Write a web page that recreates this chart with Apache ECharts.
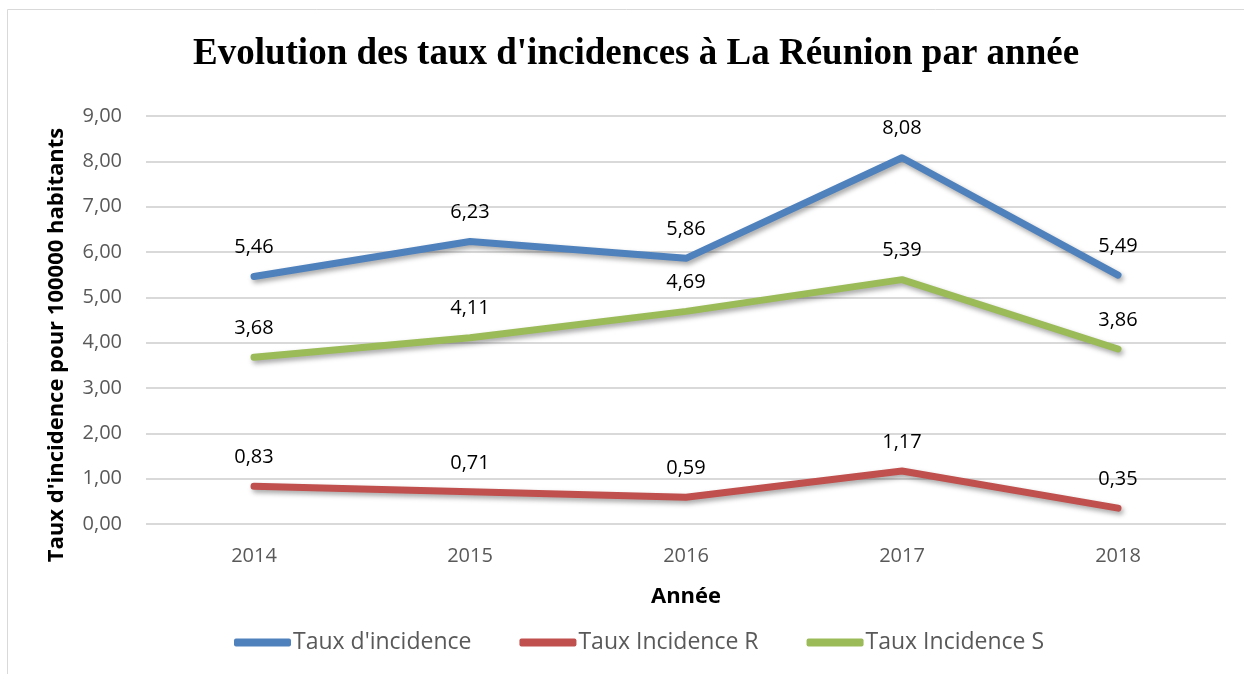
<!DOCTYPE html>
<html><head><meta charset="utf-8">
<script src="https://cdn.jsdelivr.net/npm/echarts@6/dist/echarts.min.js"></script>
<style>html,body{margin:0;padding:0;background:#fff}#c{width:1244px;height:674px}</style>
</head><body><div id="c"></div>
<script>
const years = ['2014','2015','2016','2017','2018'];
const tauxIncidence = [5.46, 6.23, 5.86, 8.08, 5.49];
const tauxR = [0.83, 0.71, 0.59, 1.17, 0.35];
const tauxS = [3.68, 4.11, 4.69, 5.39, 3.86];
const seriesNames = ["Taux d'incidence", 'Taux Incidence R', 'Taux Incidence S'];
const colors = ['#4F81BD', '#C0504D', '#9BBB59'];
const titleText = "Evolution des taux d'incidences à La Réunion par année";
const yName = "Taux d'incidence pour 100000 habitants";
const xName = 'Année';

const fmt = v => v.toFixed(2).replace('.', ',');
const chart = echarts.init(document.getElementById('c'));
function mk(name, data, color) {
  return {
    name, type: 'line', data, color,
    symbol: 'circle', symbolSize: 0, showSymbol: true,
    itemStyle: { color },
    lineStyle: { width: 7, color, cap: 'round', join: 'round',
      shadowColor: 'rgba(0,0,0,0.35)', shadowBlur: 5, shadowOffsetX: 2, shadowOffsetY: 3 },
    label: { show: true, position: 'top', distance: 19, color: '#000',
      fontFamily: 'Open Sans', fontSize: 20, formatter: p => fmt(p.value) },
    emphasis: { disabled: true },
    labelLayout: { hideOverlap: false }
  };
}
chart.setOption({
  animation: false,
  graphic: [
    { type: 'rect', shape: { x: 7.5, y: 9.5, width: 1260, height: 700 },
      style: { fill: 'none', stroke: '#d9d9d9', lineWidth: 1 }, silent: true },
    { type: 'text', x: 57, y: 345, rotation: Math.PI / 2, silent: true,
      style: { text: yName, textAlign: 'center', textVerticalAlign: 'middle',
        fontFamily: 'Open Sans', fontWeight: 'bold', fontSize: 22, fill: '#000' } }
  ],
  title: { text: titleText, left: 188, top: 31,
    textStyle: { fontFamily: 'Liberation Serif', fontWeight: 'bold', fontSize: 37, color: '#000' } },
  grid: { left: 146, right: 18, top: 116, bottom: 150 },
  legend: { bottom: 15, left: 229, itemWidth: 57, itemHeight: 8, itemGap: 48,
    icon: 'roundRect',
    textStyle: { fontFamily: 'Open Sans', fontSize: 23, color: '#595959', padding: [0,0,0,-3] },
    data: seriesNames },
  xAxis: { type: 'category', data: years, boundaryGap: true,
    name: xName, nameLocation: 'middle', nameGap: 62,
    nameTextStyle: { fontFamily: 'Open Sans', fontWeight: 'bold', fontSize: 22, color: '#000' },
    axisLine: { show: false }, axisTick: { show: false },
    axisLabel: { fontFamily: 'Open Sans', fontSize: 20, color: '#595959', margin: 22 } },
  yAxis: { type: 'value', min: 0, max: 9, interval: 1,
    axisLabel: { fontFamily: 'Open Sans', fontSize: 20, color: '#595959', margin: 24, formatter: fmt },
    splitLine: { lineStyle: { color: '#d9d9d9', width: 2 } } },
  series: [mk(seriesNames[0], tauxIncidence, colors[0]), mk(seriesNames[1], tauxR, colors[1]), mk(seriesNames[2], tauxS, colors[2])]
});
</script></body></html>
